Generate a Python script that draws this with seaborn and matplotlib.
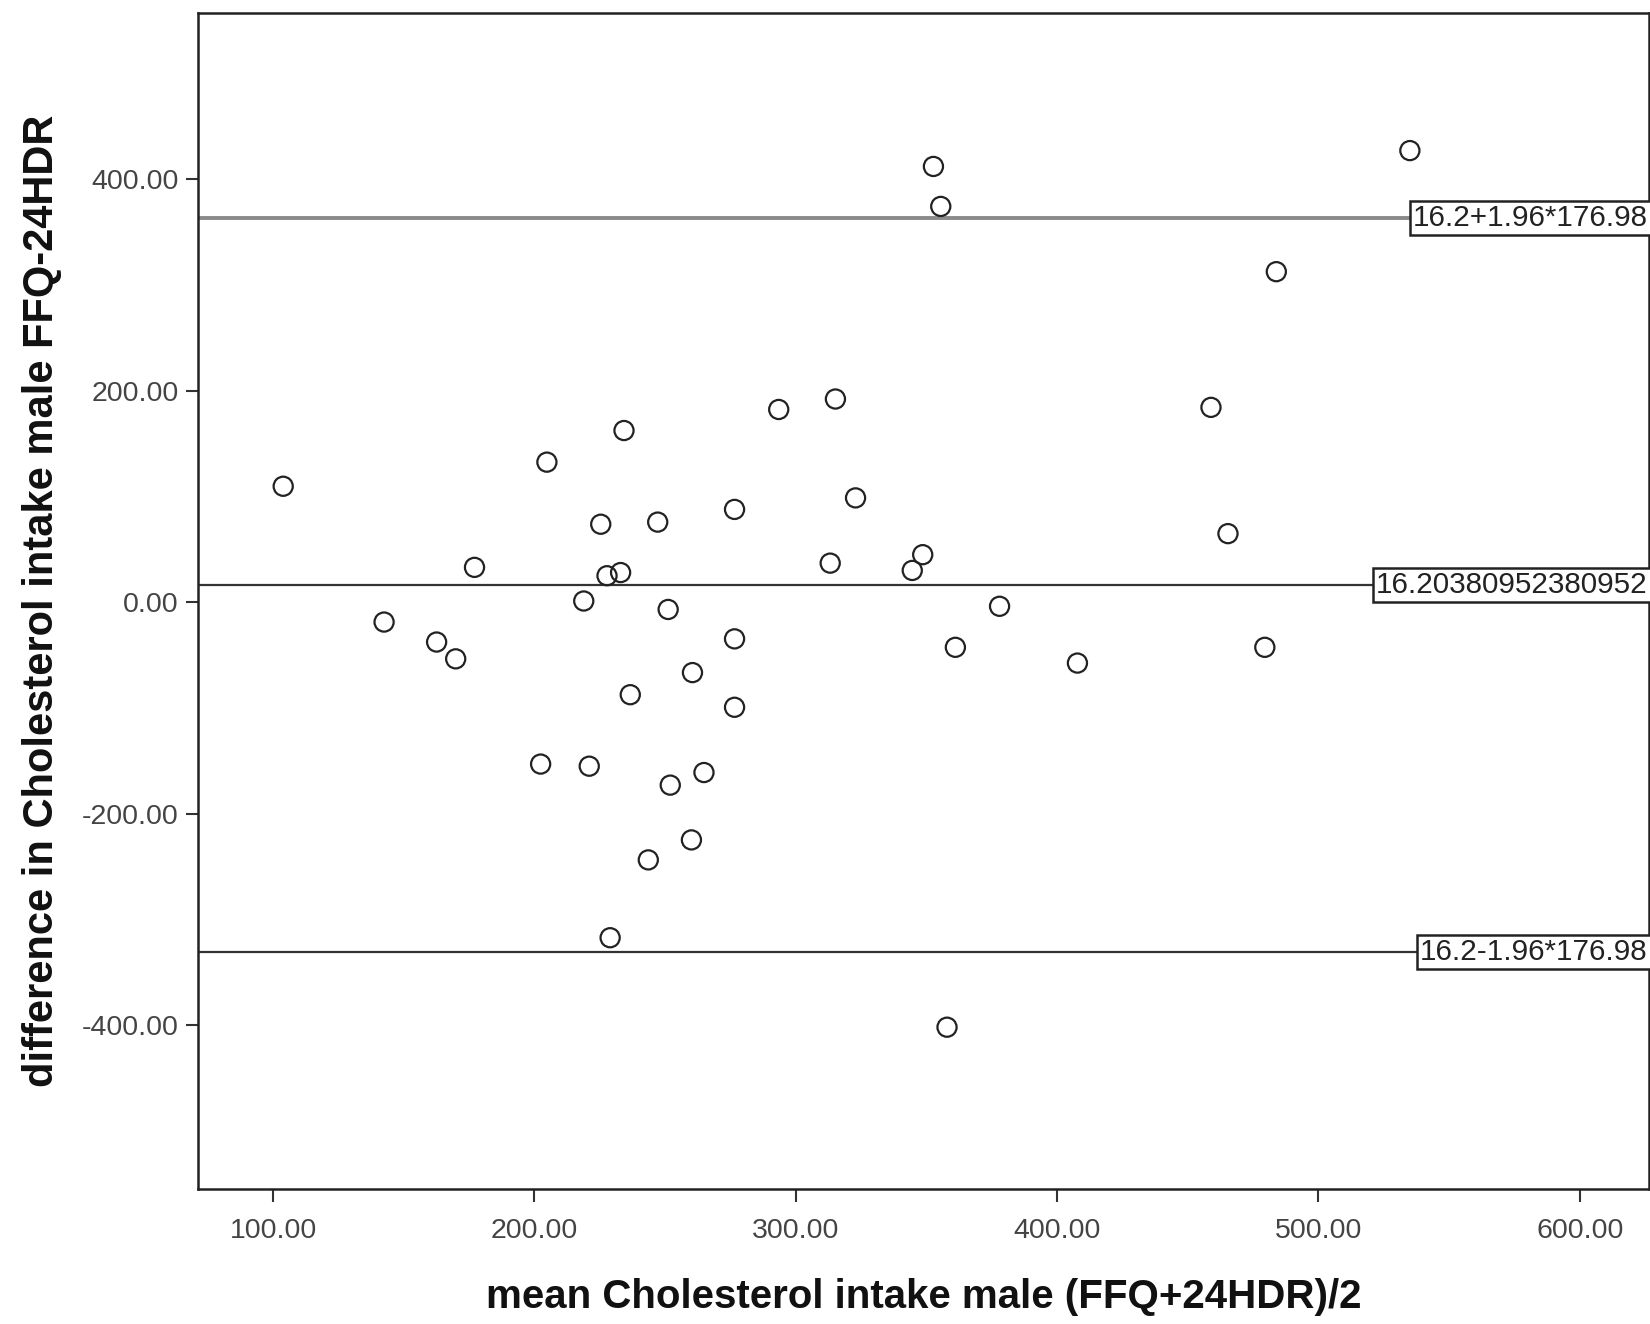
import matplotlib
matplotlib.use("Agg")
import matplotlib.pyplot as plt
import seaborn as sns
import pandas as pd

mean_vals = [103.9, 142.5, 162.6, 169.9, 177.1, 202.4, 204.8, 218.9, 221.0, 225.4,
             227.8, 233.0, 229.0, 234.3, 236.7, 243.6, 247.2, 251.2, 252.0, 260.1,
             260.5, 264.9, 276.6, 276.6, 276.6, 293.5, 313.2, 315.2, 322.9, 344.6,
             348.6, 352.7, 355.5, 357.9, 361.1, 378.0, 407.8, 458.9, 465.4, 479.5,
             483.9, 535.0]
diff_vals = [109.5, -18.9, -37.8, -53.7, 32.8, -153.2, 132.3, 1.0, -155.2, 73.6,
             24.9, 27.9, -317.4, 162.2, -87.6, -243.8, 75.6, -7.0, -173.1, -224.9,
             -66.7, -161.2, 87.6, -34.8, -99.5, 182.1, 36.8, 192.0, 98.5, 29.9,
             44.8, 411.9, 374.1, -402.0, -42.8, -4.0, -57.7, 184.1, 64.7, -42.8,
             312.4, 426.9]

mean_diff = 16.20380952380952
sd_diff = 176.98
ref_labels = ["16.2+1.96*176.98", "16.20380952380952", "16.2-1.96*176.98"]
ref_values = [16.2 + 1.96 * 176.98, mean_diff, 16.2 - 1.96 * 176.98]

x_ticks = [100, 200, 300, 400, 500, 600]
y_ticks = [-400, -200, 0, 200, 400]

df = pd.DataFrame({"mean": mean_vals, "diff": diff_vals})

sns.set_theme(style="white")
plt.rcParams['font.family'] = ['Liberation Sans', 'DejaVu Sans']

fig = plt.figure(figsize=(16.5, 13.24), dpi=100)
ax = fig.add_axes([198/1650, 1 - 1189/1324, (1649-198)/1650, (1189-13)/1324])

ax.set_xlim(71.3, 626.5)
ax.set_ylim(-555, 557)

line_styles = [dict(color="#8a8a8a", lw=2.8), dict(color="#333333", lw=1.6), dict(color="#333333", lw=1.6)]
for val, lab, st in zip(ref_values, ref_labels, line_styles):
    ax.axhline(val, zorder=1, **st)
    ax.text(0.999, val, lab, transform=ax.get_yaxis_transform(), ha="right", va="center",
            fontsize=21.3, color="#222222", zorder=5,
            bbox=dict(boxstyle="square,pad=0.1", facecolor="white", edgecolor="#222222", lw=1.8))

sns.scatterplot(data=df, x="mean", y="diff", ax=ax, marker="o", s=190,
                facecolors="none", edgecolor="#222222", linewidth=1.6, zorder=3)

ax.set_xticks(x_ticks)
ax.set_xticklabels([f"{v:.2f}" for v in x_ticks])
ax.set_yticks(y_ticks)
ax.set_yticklabels([f"{v:.2f}" for v in y_ticks])
ax.tick_params(axis="both", which="major", direction="out", length=9, width=1.5,
               color="#333333", labelsize=20.5, labelcolor="#444444")
ax.tick_params(axis="x", bottom=True, pad=12)
ax.tick_params(axis="y", left=True, pad=5)

for sp in ax.spines.values():
    sp.set_color("#222222")
    sp.set_linewidth(1.8)
    sp.set_visible(True)

ax.set_xlabel("mean Cholesterol intake male (FFQ+24HDR)/2", fontsize=29, fontweight="bold",
              color="#111111", labelpad=24)
ax.set_ylabel("difference in Cholesterol intake male FFQ-24HDR", fontsize=30, fontweight="bold",
              color="#111111", labelpad=14)

fig.savefig("out.png", dpi=100, facecolor="white")
